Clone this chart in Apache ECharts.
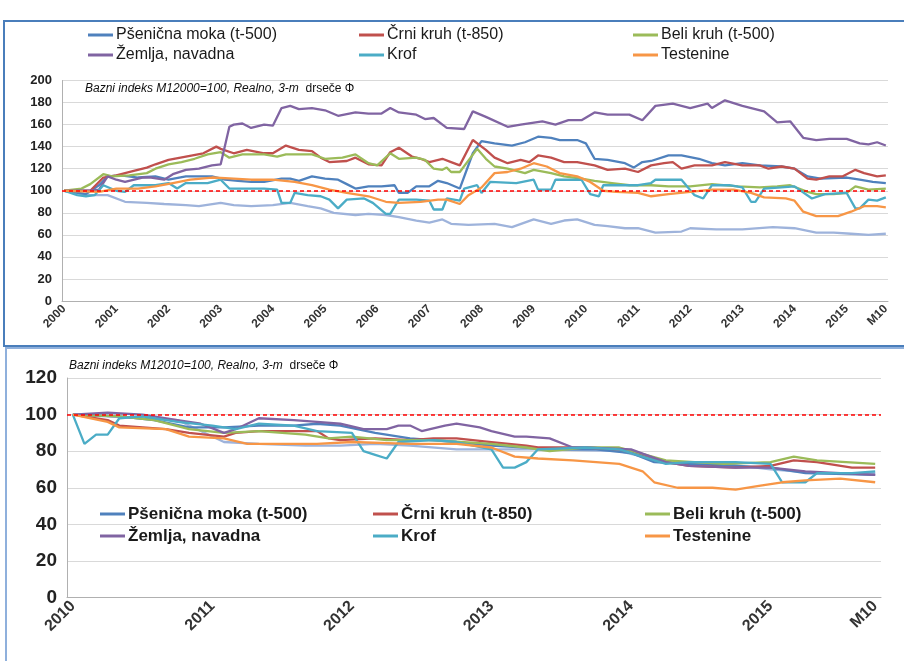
<!DOCTYPE html>
<html>
<head>
<meta charset="utf-8">
<script src="https://cdn.jsdelivr.net/npm/echarts@6/dist/echarts.min.js"></script>
<style>
  html, body { margin: 0; padding: 0; background: #fff; }
  #chart { width: 904px; height: 661px; }
</style>
</head>
<body>
<div id="chart"></div>
<script>
// imena serij
const names = ['Pšenična moka (t-500)', 'Črni kruh (t-850)', 'Beli kruh (t-500)', 'Žemlja, navadna', 'Krof', 'Testenine', 'Ostalo']
const colors = ['#4F81BD', '#C0504D', '#9BBB59', '#8064A2', '#4BACC6', '#F79646', '#9EB3DB']

// zgornji graf: meseci od 2000 (indeks 0) do 2015 M10 (indeks 189)
const topFirstYear = 2000
const topMonths = 190
const topLastLabel = 'M10'
const topMoka = [[0,100],[5,97],[8,105],[10,113],[13,114],[17,112],[21,113],[24,110],[28,113],[31,113],[34,113],[37,110],[40,109],[43,108],[46,108],[50,111],[52,111],[54,109],[57,113],[60,111],[63,110],[65,106],[67,102],[70,104],[73,104],[76,105],[77,98],[79,98],[81,104],[84,104],[86,109],[88,107],[91,102],[94,134],[96,145],[99,143],[103,141],[106,144],[109,149],[112,148],[114,146],[118,146],[120,143],[122,129],[125,128],[129,125],[131,121],[133,126],[135,127],[139,132],[142,132],[146,129],[149,125],[152,123],[156,125],[160,123],[165,122],[168,120],[171,113],[174,111],[180,112],[183,110],[186,108],[189,107]]
const topCrni = [[0,100],[6,100],[9,112],[12,114],[16,118],[19,121],[21,124],[24,128],[28,131],[32,134],[35,140],[36,138],[39,134],[42,137],[46,134],[48,134],[51,141],[54,137],[57,136],[59,130],[61,126],[65,127],[67,130],[70,124],[73,123],[75,135],[77,139],[80,131],[82,129],[84,126],[87,129],[89,126],[91,123],[94,146],[97,137],[99,130],[102,125],[105,128],[107,126],[109,132],[112,130],[115,126],[118,126],[122,123],[125,119],[129,120],[132,117],[135,123],[138,125],[140,126],[142,120],[145,123],[149,123],[152,126],[156,123],[160,123],[162,120],[165,122],[168,120],[171,111],[173,110],[176,113],[179,113],[182,119],[184,116],[187,113],[189,114]]
const topBeli = [[0,100],[4,102],[6,106],[9,115],[11,113],[15,114],[19,116],[21,120],[24,124],[27,126],[30,129],[33,133],[36,135],[38,130],[41,133],[46,133],[49,131],[51,133],[57,133],[60,129],[64,130],[67,133],[70,125],[72,123],[75,134],[77,129],[81,130],[83,128],[85,120],[87,119],[88,121],[89,117],[91,117],[95,138],[97,129],[99,122],[102,120],[106,116],[108,119],[112,116],[115,113],[119,111],[122,109],[126,107],[130,105],[135,105],[139,104],[144,104],[149,106],[155,104],[160,103],[164,104],[167,105],[171,99],[173,97],[177,97],[180,98],[182,104],[185,101],[189,102]]
const topZemlja = [[0,100],[6,100],[8,101],[10,113],[12,110],[14,108],[18,112],[20,112],[23,110],[25,115],[28,119],[31,120],[34,123],[36,124],[38,158],[39,160],[41,161],[43,157],[46,160],[48,159],[50,175],[52,177],[54,174],[57,175],[60,173],[63,168],[67,171],[70,170],[73,170],[75,175],[77,171],[81,169],[83,165],[85,166],[88,157],[92,156],[94,172],[97,167],[102,158],[105,160],[110,163],[113,160],[116,164],[119,164],[122,171],[125,169],[130,169],[133,164],[136,177],[140,179],[144,175],[148,179],[149,175],[152,182],[156,177],[161,172],[164,162],[167,163],[170,148],[173,146],[176,147],[180,147],[183,143],[185,142],[187,144],[189,141]]
const topKrof = [[0,100],[3,96],[5,95],[7,96],[9,105],[12,100],[14,99],[16,105],[21,105],[24,107],[26,102],[28,107],[33,107],[36,110],[38,102],[41,102],[46,102],[49,101],[50,89],[52,89],[53,98],[56,96],[59,95],[61,92],[63,84],[65,92],[69,93],[71,89],[74,79],[75,79],[77,92],[81,92],[84,91],[85,83],[87,83],[88,93],[91,91],[92,102],[95,105],[96,98],[98,108],[104,107],[108,110],[109,101],[112,101],[113,110],[119,110],[121,97],[123,95],[124,105],[132,105],[135,107],[136,110],[142,110],[145,96],[147,93],[149,105],[153,105],[156,103],[158,90],[159,90],[161,102],[165,103],[168,104],[172,93],[175,97],[180,98],[182,84],[183,84],[185,92],[187,91],[189,94]]
const topTestenine = [[0,100],[8,99],[12,102],[17,102],[21,104],[25,107],[29,110],[34,112],[39,111],[43,110],[48,110],[53,108],[57,105],[61,101],[65,98],[70,95],[74,90],[77,89],[82,90],[86,92],[88,92],[91,88],[93,96],[96,103],[99,116],[102,117],[105,120],[108,125],[111,122],[114,116],[118,113],[121,108],[124,100],[127,99],[132,98],[135,95],[139,97],[144,99],[149,101],[154,101],[158,98],[161,94],[166,93],[168,91],[170,81],[173,77],[178,77],[181,81],[184,86],[187,86],[189,85]]
const topOstalo = [[0,100],[6,96],[10,96],[14,90],[19,89],[23,88],[28,87],[31,86],[36,89],[39,87],[43,86],[48,87],[52,89],[56,86],[59,84],[62,80],[67,78],[70,79],[74,78],[77,76],[81,73],[84,71],[87,74],[89,70],[93,69],[99,70],[103,67],[108,74],[112,70],[115,73],[118,74],[122,69],[125,68],[129,66],[132,66],[136,62],[142,63],[144,66],[150,65],[156,65],[163,67],[168,66],[173,62],[177,62],[181,61],[185,60],[189,61]]

// spodnji graf: meseci od 2010 (indeks 0) do 2015 M10 (indeks 69)
const botFirstYear = 2010
const botMonths = 70
const botLastLabel = 'M10'
const botMoka = [[0,100],[4,99],[7,97],[10,93],[13,93],[16,94],[19,94],[21,95],[23,94],[26,90],[29,87],[33,85],[36,83],[39,82],[41,81],[45,81],[48,79],[50,74],[53,73],[57,72],[60,71],[63,68],[69,67]]
const botCrni = [[0,100],[3,97],[4,94],[6,93],[8,92],[10,90],[13,88],[14,90],[16,91],[19,91],[21,91],[22,87],[23,86],[26,87],[29,86],[31,87],[33,87],[36,85],[39,83],[40,82],[44,82],[47,81],[51,74],[53,72],[57,71],[60,72],[62,75],[64,74],[67,71],[69,71]]
const botBeli = [[0,100],[4,99],[7,97],[10,92],[13,90],[16,91],[18,90],[20,89],[22,87],[24,88],[27,86],[31,86],[36,84],[39,82],[41,80],[44,82],[47,82],[51,75],[56,73],[60,74],[62,77],[64,75],[69,73]]
const botZemlja = [[0,100],[3,101],[6,100],[9,97],[11,95],[13,90],[14,92],[16,98],[19,97],[21,96],[23,95],[25,92],[27,92],[28,94],[29,94],[30,91],[32,94],[33,95],[35,93],[36,91],[38,88],[39,88],[41,87],[43,82],[44,82],[48,81],[51,74],[53,72],[57,71],[60,71],[63,69],[66,68],[69,67]]
const botKrof = [[0,100],[1,84],[2,89],[3,89],[4,98],[6,99],[9,96],[12,94],[14,92],[16,95],[19,94],[21,91],[24,90],[25,80],[26,78],[27,76],[28,85],[31,86],[33,85],[36,81],[37,71],[38,71],[39,74],[40,81],[44,82],[47,81],[49,77],[51,73],[53,74],[57,74],[60,73],[61,63],[63,63],[64,68],[67,68],[69,69]]
const botTestenine = [[0,100],[3,96],[4,93],[8,92],[10,88],[13,87],[15,84],[19,84],[21,84],[24,85],[29,84],[31,84],[33,84],[36,82],[38,77],[40,76],[43,75],[47,73],[49,69],[50,63],[52,60],[55,60],[57,59],[59,61],[61,63],[63,64],[66,65],[69,63]]
const botOstalo = [[0,100],[9,97],[13,85],[16,84],[20,83],[23,83],[26,84],[29,83],[33,81],[36,81],[41,81],[47,80],[51,74],[56,73],[60,70],[64,68],[69,68]]

const topData = [topMoka, topCrni, topBeli, topZemlja, topKrof, topTestenine, topOstalo]
const botData = [botMoka, botCrni, botBeli, botZemlja, botKrof, botTestenine, botOstalo]

const font = "'Liberation Sans', Arial, sans-serif"

function monthCats(firstYear, count) {
  let list = []
  for (let i = 0; i < count; i++) {
    list.push((firstYear + Math.floor(i / 12)) + '-' + (i % 12 + 1))
  }
  return list
}

function xAxisFor(gridIndex, firstYear, count, lastLabel, fontSize, tickLen) {
  return {
    type: 'category',
    gridIndex: gridIndex,
    data: monthCats(firstYear, count),
    boundaryGap: true,
    axisLine: { lineStyle: { color: '#b0b0b0', width: 1 } },
    axisTick: { interval: 0, length: tickLen, lineStyle: { color: '#b0b0b0' } },
    splitLine: { show: false },
    axisLabel: {
      interval: function (idx) { return idx % 12 === 0 || idx === count - 1 },
      rotate: 45,
      margin: 6,
      fontFamily: font,
      fontWeight: 'bold',
      fontSize: fontSize,
      color: '#333',
      formatter: function (val, idx) {
        if (idx === count - 1) return lastLabel
        return val.split('-')[0]
      }
    }
  }
}

function yAxisFor(gridIndex, max, fontSize) {
  return {
    type: 'value',
    gridIndex: gridIndex,
    min: 0,
    max: max,
    interval: 20,
    axisLine: { show: true, lineStyle: { color: '#b0b0b0' } },
    axisTick: { show: false },
    splitLine: { lineStyle: { color: '#d9d9d9', width: 1 } },
    axisLabel: { fontFamily: font, fontWeight: 'bold', fontSize: fontSize, color: '#222', margin: 10 }
  }
}

function refLine() {
  return {
    silent: true,
    symbol: ['none', 'none'],
    label: { show: false },
    lineStyle: { color: '#ff0000', type: [4, 3], width: 1.5 },
    data: [{ yAxis: 100 }]
  }
}

let series = []
topData.forEach((d, i) => {
  series.push({
    name: names[i], type: 'line', xAxisIndex: 0, yAxisIndex: 0,
    data: d, showSymbol: false, symbol: 'none',
    lineStyle: { width: 2.3, color: colors[i] }, itemStyle: { color: colors[i] },
    emphasis: { disabled: true },
    markLine: i === 0 ? refLine() : undefined,
    z: i === 6 ? 1 : 2
  })
})
botData.forEach((d, i) => {
  series.push({
    name: names[i], type: 'line', xAxisIndex: 1, yAxisIndex: 1,
    data: d, showSymbol: false, symbol: 'none',
    lineStyle: { width: 2.3, color: colors[i] }, itemStyle: { color: colors[i] },
    emphasis: { disabled: true },
    markLine: i === 0 ? refLine() : undefined,
    z: i === 6 ? 1 : 2
  })
})

function legendCol(left, top, items, fontSize, bold, lineHeight) {
  return {
    orient: 'vertical',
    left: left,
    top: top,
    data: items,
    icon: 'rect',
    itemWidth: 25,
    itemHeight: 3,
    itemGap: 2,
    padding: 0,
    selectedMode: false,
    textStyle: {
      fontFamily: font, fontSize: fontSize, fontWeight: bold ? 'bold' : 'normal',
      color: '#1a1a1a', lineHeight: lineHeight, padding: [0, 0, 0, -2]
    }
  }
}

let chart = echarts.init(document.getElementById('chart'))
chart.setOption({
  animation: false,
  backgroundColor: '#fff',
  grid: [
    { left: 62, top: 80.5, width: 826, height: 220.5, outerBoundsMode: 'none' },
    { left: 67, top: 378, width: 814, height: 219.5, outerBoundsMode: 'none' }
  ],
  xAxis: [
    xAxisFor(0, topFirstYear, topMonths, topLastLabel, 12, 4),
    xAxisFor(1, botFirstYear, botMonths, botLastLabel, 16, 6)
  ],
  yAxis: [yAxisFor(0, 200, 13), yAxisFor(1, 120, 19)],
  legend: [
    legendCol(88, 26, [names[0], names[3]], 16, false, 18),
    legendCol(359, 26, [names[1], names[4]], 16, false, 18),
    legendCol(633, 26, [names[2], names[5]], 16, false, 18),
    legendCol(100, 504, [names[0], names[3]], 17, true, 20),
    legendCol(373, 504, [names[1], names[4]], 17, true, 20),
    legendCol(645, 504, [names[2], names[5]], 17, true, 20)
  ],
  graphic: [
    { type: 'rect', shape: { x: 4, y: 21, width: 920, height: 325 }, style: { fill: 'none', stroke: '#4a7ebb', lineWidth: 2 }, z: 0 },
    { type: 'rect', shape: { x: 6, y: 348, width: 920, height: 330 }, style: { fill: 'none', stroke: '#8fb0dc', lineWidth: 2 }, z: 0 },
    {
      type: 'text', left: 85, top: 83, z: 10,
      style: {
        text: '{i|Bazni indeks M12000=100, Realno, 3-m}{n|  drseče Φ}',
        rich: {
          i: { fontFamily: font, fontStyle: 'italic', fontSize: 12, fill: '#111' },
          n: { fontFamily: font, fontSize: 12, fill: '#111' }
        }
      }
    },
    {
      type: 'text', left: 69, top: 360, z: 10,
      style: {
        text: '{i|Bazni indeks M12010=100, Realno, 3-m}{n|  drseče Φ}',
        rich: {
          i: { fontFamily: font, fontStyle: 'italic', fontSize: 12, fill: '#111' },
          n: { fontFamily: font, fontSize: 12, fill: '#111' }
        }
      }
    }
  ],
  series: series
})
</script>
</body>
</html>
